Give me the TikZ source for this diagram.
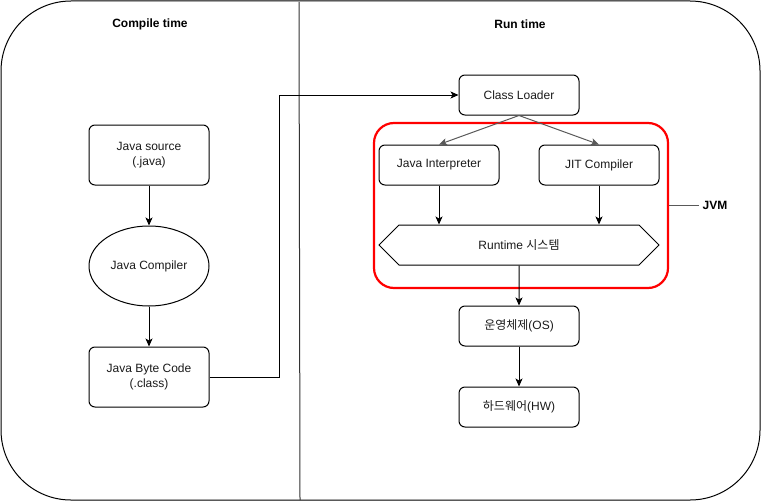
\documentclass[tikz,border=0pt]{standalone}
\usepackage{fontspec}
\setmainfont{Liberation Sans}
\newfontfamily\krfont{Noto Sans CJK KR}
\usepackage{tikz}
\usetikzlibrary{positioning,arrows.meta,shapes.geometric,shapes.symbols}
\definecolor{jvmred}{HTML}{FF0000}
\definecolor{linkgray}{HTML}{595959}
\definecolor{textgray}{HTML}{1A1A1A}

\begin{document}
\begin{tikzpicture}[
  x=1pt, y=-1pt,
  blk/.style={
    draw, rounded corners=6pt, line width=1pt,
    minimum width=120pt, minimum height=#1, inner sep=2pt,
    font=\fontsize{12}{14.5}\selectfont, text=textgray, align=center
  },
  blk/.default=40pt,
  ell/.style={
    draw, ellipse, line width=1pt, minimum width=120pt, minimum height=80pt,
    inner sep=0pt, font=\fontsize{12}{14.5}\selectfont, text=textgray
  },
  hexa/.style={
    draw, signal, signal to=west and east, line width=1pt,
    minimum width=280pt, minimum height=40pt, inner sep=0pt,
    font=\fontsize{12}{14.5}\selectfont, text=textgray
  },
  jvmbox/.style={
    draw=jvmred, line width=2.2pt, rounded corners=20pt,
    minimum width=294pt, minimum height=165pt
  },
  title/.style={font=\bfseries\fontsize{12}{14.5}\selectfont},
  arr/.style={-{Stealth[length=8pt,width=7pt,inset=2pt]}, line width=1pt}
]
\useasboundingbox (0,0) rectangle (762,503);
\draw[line width=1pt, rounded corners=70pt] (1,1) rectangle (760,500);
\draw[line width=1pt, black!80] (299,2) -- (300,500);

\node[title] (ctime) at (150,24) {Compile time};
\node[title] (rtime) at (520,24) {Run time};

\node[blk=60pt] (src) at (149,155) {Java source\\(.java)};
\node[ell, below=40pt of src] (jc) {Java Compiler};
\node[blk=60pt, below=40pt of jc] (jbc) {Java Byte Code\\(.class)};

\node[blk] (cl) at (519,95) {Class Loader};
\node[jvmbox] (jvm) at (521,205.5) {};
\node[blk] (ji) at (439,165) {Java Interpreter};
\node[blk] (jit) at (599,165) {JIT Compiler};
\node[hexa] (rt) at (519,245) {Runtime {\krfont 시스템}};
\node[blk, below=40pt of rt] (os) {{\krfont 운영체제}(OS)};
\node[blk, below=40pt of os] (hw) {{\krfont 하드웨어}(HW)};
\node[title, right=30pt of jvm] (jvml) {JVM};

\foreach \a/\b in {src/jc, jc/jbc, rt/os, os/hw}{
  \draw[arr] (\a) -- (\b);
}
\draw[arr] (ji) -- (ji |- rt.north);
\draw[arr] (jit) -- (jit |- rt.north);
\draw[arr, linkgray] (cl.south) -- (ji.north);
\draw[arr, linkgray] (cl.south) -- (jit.north);
\draw[arr] (jbc.east) -- ++(70pt,0) |- (cl.west);
\draw[line width=1pt, linkgray] (jvm.east) -- (jvml.west);
\end{tikzpicture}
\end{document}
